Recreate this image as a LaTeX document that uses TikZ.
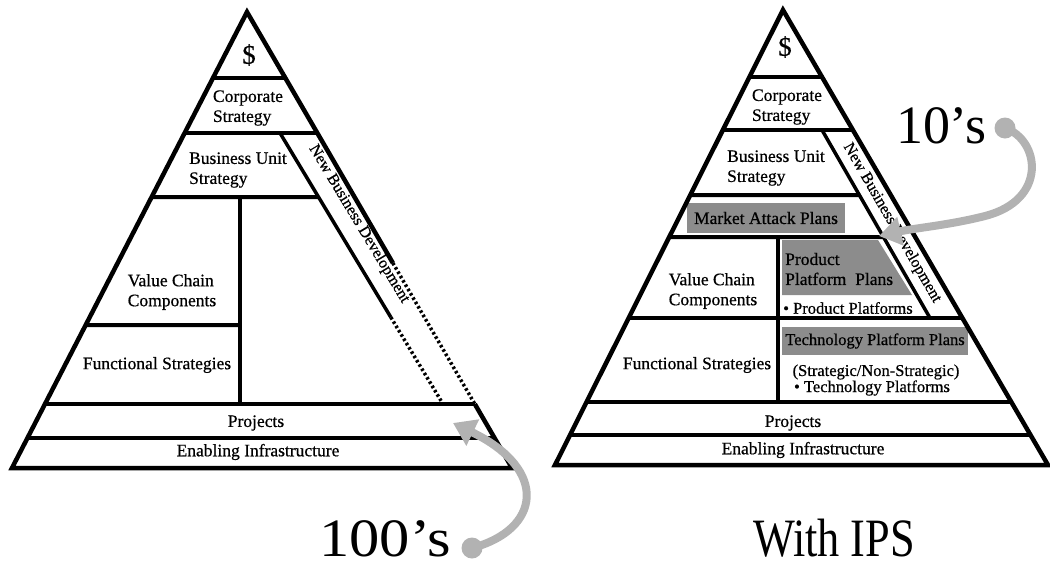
\documentclass[tikz,border=0pt]{standalone}
\usepackage{fontspec}
\usepackage{graphicx}
\setmainfont{Liberation Serif}
\newfontfamily\lblfont[FakeBold=0.6]{Liberation Serif}
\usetikzlibrary{calc,arrows.meta}
\definecolor{arrowgray}{gray}{0.70}
\definecolor{plangray}{gray}{0.55}
\begin{document}
\begin{tikzpicture}[x=1pt,y=-1pt,
  edge/.style={line width=4.5pt, line join=miter},
  tier/.style={line width=4pt},
  stripline/.style={line width=3.5pt},
  dotseg/.style={line width=3.5pt, dash pattern=on 2.5pt off 2.5pt},
  lbl/.style={font=\lblfont\fontsize{17.5}{20}\selectfont, inner sep=0pt},
  small/.style={font=\lblfont\fontsize{16.5}{19}\selectfont, inner sep=0pt},
  nbd/.style={font=\lblfont\fontsize{16}{18}\selectfont, inner sep=0pt},
  dollar/.style={font=\lblfont\fontsize{27}{29}\selectfont, inner sep=0pt},
  big/.style={font=\fontsize{54}{60}\selectfont, inner sep=0pt, anchor=base},
  plan/.style={fill=plangray, draw=none},
  garrow/.style={draw=arrowgray, line width=8pt, line cap=round,
    -{Triangle[length=22pt,width=28pt]}},
  gdot/.style={circle, fill=arrowgray, minimum size=21pt, inner sep=0pt}
]
\useasboundingbox (0,0) rectangle (1050,566);

% ---------------- left pyramid ----------------
\coordinate (LA) at (247,12);
\coordinate (LL) at (12,468);
\coordinate (LR) at (512,468);
\draw[edge] ($(LA)!0.5504!(LR)$) -- (LA) -- (LL) -- (LR) -- ($(LA)!0.8596!(LR)$);
\draw[dotseg] ($(LA)!0.5504!(LR)$) -- ($(LA)!0.8596!(LR)$);

\draw[tier] ($(LA)!0.1447!(LL)$) -- ($(LA)!0.1447!(LR)$);
\draw[tier] ($(LA)!0.2654!(LL)$) -- ($(LA)!0.2654!(LR)$);
\coordinate (Ls1) at (280,133);
\coordinate (Ls2) at (443,404);
\draw[stripline] (Ls1) -- ($(Ls1)!0.68!(Ls2)$);
\draw[dotseg] ($(Ls1)!0.68!(Ls2)$) -- (Ls2);
\draw[tier] ($(LA)!0.4057!(LL)$) -- (318.5,197);
\draw[tier] (240,197) -- (240,404);
\draw[tier] ($(LA)!0.6864!(LL)$) -- (240,325);
\draw[tier] ($(LA)!0.8596!(LL)$) -- ($(LA)!0.8596!(LR)$);
\draw[tier] ($(LA)!0.9342!(LL)$) -- ($(LA)!0.9342!(LR)$);

\node[dollar] (Ldol) at (249,55) {\$};
\node[lbl, align=left] (Lcorp) at (248,108) {Corporate\\Strategy};
\node[lbl, align=left] (Lbu) at (238,170) {Business Unit\\Strategy};
\node[lbl, align=left] (Lvcc) at (172,292) {Value Chain\\Components};
\node[lbl] (Lfs) at (157,365) {Functional Strategies};
\node[lbl] (Lproj) at (256,423) {Projects};
\node[lbl] (Lei) at (258,452) {Enabling Infrastructure};
\node[nbd, rotate=-59] (Lnbd) at (359,224) {New Business Development};

% ---------------- right pyramid ----------------
\coordinate (RA) at (783,10);
\coordinate (RL) at (555,465);
\coordinate (RR) at (1048,465);

% shaded planning areas
\fill[plan] (687,203) rectangle (845,233);
\fill[plan] (782,240) -- (878,240) -- (912,295) -- (782,295) -- cycle;
\fill[plan] (782,327) rectangle (968,355);

\draw[edge] (RA) -- (RL) -- (RR) -- cycle;
\draw[tier] ($(RA)!0.1473!(RL)$) -- ($(RA)!0.1473!(RR)$);
\draw[tier] ($(RA)!0.2637!(RL)$) -- ($(RA)!0.2637!(RR)$);
\coordinate (Rs1) at (822,130);
\coordinate (Rs2) at (930,318);
\draw[stripline] (Rs1) -- (Rs2);
\draw[tier] ($(RA)!0.4066!(RL)$) -- (859,195);
\draw[tier] ($(RA)!0.4989!(RL)$) -- (883.5,237);
\draw[tier] (778,237) -- (778,402);
\draw[tier] ($(RA)!0.6769!(RL)$) -- ($(RA)!0.6769!(RR)$);
\draw[tier] ($(RA)!0.8615!(RL)$) -- ($(RA)!0.8615!(RR)$);
\draw[tier] ($(RA)!0.9341!(RL)$) -- ($(RA)!0.9341!(RR)$);

\node[dollar] (Rdol) at (785,47) {\$};
\node[lbl, align=left] (Rcorp) at (787,107) {Corporate\\Strategy};
\node[lbl, align=left] (Rbu) at (776,168) {Business Unit\\Strategy};
\node[lbl] (Rmap) at (766,218) {Market Attack Plans};
\node[lbl, align=left] (Rvcc) at (713,291) {Value Chain\\Components};
\node[lbl, align=left, anchor=west] (Rppp) at (785,269) {Product\\Platform~~Plans};
\node[small, anchor=west] (Rpp) at (783,308) {• Product Platforms};
\node[lbl] (Rfs) at (697,365) {Functional Strategies};
\node[small] (Rtpp) at (875,341) {Technology Platform Plans};
\node[small] (Rsns) at (876,372) {(Strategic/Non-Strategic)};
\node[small] (Rtp) at (872,388) {• Technology Platforms};
\node[lbl] (Rproj) at (793,423) {Projects};
\node[lbl] (Rei) at (803,450) {Enabling Infrastructure};
\node[nbd, rotate=-60] (Rnbd) at (892,223) {New Business Development};

% ---------------- counts and arrows ----------------
\node[big] (l10) at (941,143) {10’s};
\node[big] (l100) at (385,556) {\scalebox{1.12}[1]{100’s}};
\node[big] (lips) at (834,556) {\scalebox{0.82}[1]{With IPS}};

\node[gdot] (d10) at (1005,128) {};
\coordinate (t10) at (879,236);
\draw[garrow] (d10.center) .. controls (1040,140) and (1048,200) .. (985,216)
  .. controls (950,225) and (915,228) .. (t10);

\node[gdot] (d100) at (472,548) {};
\coordinate (t100) at (453,423);
\draw[garrow] (d100.center) .. controls (540,530) and (550,470) .. (t100);
\end{tikzpicture}
\end{document}
